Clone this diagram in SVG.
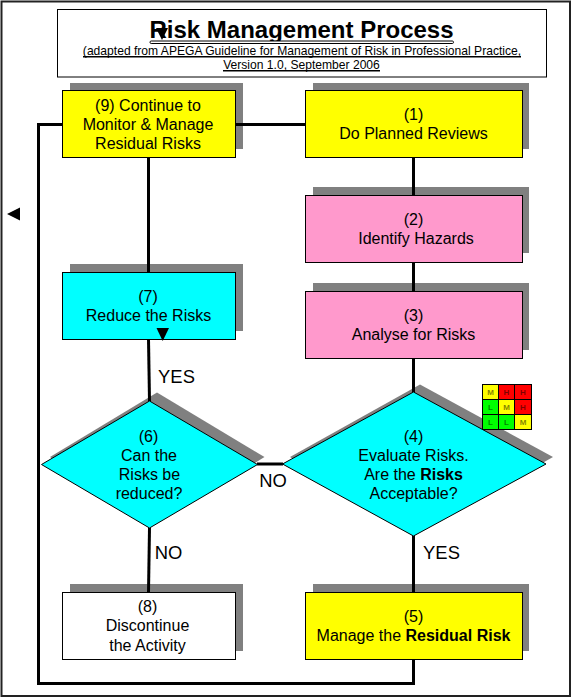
<svg xmlns="http://www.w3.org/2000/svg" width="572" height="698" viewBox="0 0 572 698">
<style>
text{font-family:"Liberation Sans",Arial,sans-serif;fill:#000;text-anchor:middle}
.t{font-size:16px}
.l{font-size:18.400px}
.b{font-weight:bold}
.s{fill:#808080;stroke:none}
.n{stroke:#000;stroke-width:1}
.y{fill:#ffff00}.p{fill:#ff99cc}.c{fill:#00ffff}.w{fill:#fff}
.g{fill:#00ff00}.r{fill:#ff0000}
.m{font-size:8px;font-weight:bold;fill:#000;fill-opacity:.5}
.a{fill:#000;stroke:none}
.u{stroke:#000;stroke-width:1.500;fill:none}
</style>
<rect width="572" height="698" fill="#fff"/>
<rect id="frame" x="1.500" y="1.500" width="568.500" height="694.500" fill="#fff" stroke="#222" stroke-width="2"/>
<g id="title">
<rect x="57.500" y="9.500" width="489" height="67.500" fill="#fff" stroke="#000"/>
<text x="301.500" y="38" font-size="24" class="b">Risk Management Process</text>
<rect x="150" y="41" width="303.500" height="2.500" rx="1.200" fill="#fff" stroke="#000"/>
<text x="302" y="55" font-size="12.100">(adapted from APEGA Guideline for Management of Risk in Professional Practice,</text>
<path class="u" d="M83 56.800H521"/>
<text x="301.500" y="69" font-size="12.100">Version 1.0, September 2006</text>
<path class="u" d="M223 70.800H380"/>
<polygon class="a" points="156,28 168,28 162,40"/>
</g>
<g id="shadows">
<rect class="s" x="70" y="83" width="173" height="66"/>
<rect class="s" x="313" y="83" width="216" height="66"/>
<rect class="s" x="313" y="187" width="216" height="66"/>
<rect class="s" x="313" y="283" width="216" height="67"/>
<rect class="s" x="70" y="264" width="173" height="67"/>
<rect class="s" x="70" y="584" width="173" height="67"/>
<rect class="s" x="313" y="584" width="216" height="67"/>
<polygon class="s" points="50,457 157,392.500 264.500,457 149,528"/>
<polygon class="s" points="290,457 420,384.500 553,457 413,536"/>
</g>
<g id="connectors" fill="none" stroke="#000" stroke-width="3">
<path d="M62 124.500H38.500V683.500H413.500V659"/>
<path d="M235 124.500H305"/>
<path d="M413.500 157V195"/>
<path d="M413.500 262V291"/>
<path d="M413.500 358V392"/>
<path d="M413.500 536V592"/>
<path d="M148.500 157V272"/>
<path d="M148.500 339L149.500 401"/>
<path d="M149.500 528L148.500 592"/>
<path d="M257 464H283"/>
</g>
<g id="node9"><rect class="n y" x="62.500" y="90.500" width="173" height="67"/>
<text class="t" x="148" y="111">(9) Continue to</text><text class="t" x="148" y="130">Monitor &amp; Manage</text><text class="t" x="148" y="149">Residual Risks</text></g>
<g id="node1"><rect class="n y" x="305.500" y="90.500" width="217" height="67"/>
<text class="t" x="413.500" y="120">(1)</text><text class="t" x="413.500" y="139">Do Planned Reviews</text></g>
<g id="node2"><rect class="n p" x="305.500" y="195.500" width="217" height="67"/>
<text class="t" x="413.500" y="225">(2)</text><text class="t" x="416" y="244">Identify Hazards</text></g>
<g id="node3"><rect class="n p" x="305.500" y="291.500" width="217" height="67"/>
<text class="t" x="413.500" y="321">(3)</text><text class="t" x="413.500" y="340">Analyse for Risks</text></g>
<g id="node7"><rect class="n c" x="62.500" y="272.500" width="173" height="67"/>
<text class="t" x="148" y="302">(7)</text><text class="t" x="148.500" y="321">Reduce the Risks</text>
<polygon class="a" points="156.500,328 169,328 162.700,341"/></g>
<g id="node6"><polygon class="n c" points="41.500,464.500 149.500,401 257.500,464.500 149.500,528"/>
<text class="t" x="148.500" y="442">(6)</text><text class="t" x="149" y="461">Can the</text><text class="t" x="149.500" y="480">Risks be</text><text class="t" x="149" y="499">reduced?</text></g>
<g id="node4"><polygon class="n c" points="282.500,464 413.500,392 546,464 413.500,536"/>
<text class="t" x="413.500" y="442">(4)</text><text class="t" x="413.500" y="461">Evaluate Risks.</text><text class="t" x="413.500" y="480">Are the <tspan class="b">Risks</tspan></text><text class="t" x="413.500" y="499">Acceptable?</text></g>
<g id="node8"><rect class="n w" x="62.500" y="592.500" width="173" height="67"/>
<text class="t" x="147.500" y="612">(8)</text><text class="t" x="147.500" y="631">Discontinue</text><text class="t" x="147.500" y="651">the Activity</text></g>
<g id="node5"><rect class="n y" x="305.500" y="592.500" width="217" height="67"/>
<text class="t" x="413.500" y="622">(5)</text><text class="t" x="413.500" y="641">Manage the <tspan class="b">Residual Risk</tspan></text></g>
<g id="labels">
<text class="l" x="176.500" y="382.500">YES</text>
<text class="l" x="441.500" y="558.500">YES</text>
<text class="l" x="273" y="486.500">NO</text>
<text class="l" x="168.500" y="558.500">NO</text>
<polygon class="a" points="20,207.500 20,220.500 7,214"/>
</g>
<g id="matrix" stroke="#000" stroke-width="1">
<rect class="y" x="482.500" y="384.500" width="16" height="15"/><rect class="r" x="498.500" y="384.500" width="16" height="15"/><rect class="r" x="514.500" y="384.500" width="17" height="15"/>
<rect class="g" x="482.500" y="399.500" width="16" height="15"/><rect class="y" x="498.500" y="399.500" width="16" height="15"/><rect class="r" x="514.500" y="399.500" width="17" height="15"/>
<rect class="g" x="482.500" y="414.500" width="16" height="15"/><rect class="g" x="498.500" y="414.500" width="16" height="15"/><rect class="y" x="514.500" y="414.500" width="17" height="15"/>
<g stroke="none">
<text class="m" x="490.500" y="395">M</text><text class="m" x="506.500" y="395">H</text><text class="m" x="523" y="395">H</text>
<text class="m" x="490.500" y="410">L</text><text class="m" x="506.500" y="410">M</text><text class="m" x="523" y="410">H</text>
<text class="m" x="490.500" y="425">L</text><text class="m" x="506.500" y="425">L</text><text class="m" x="523" y="425">M</text>
</g></g>
</svg>
